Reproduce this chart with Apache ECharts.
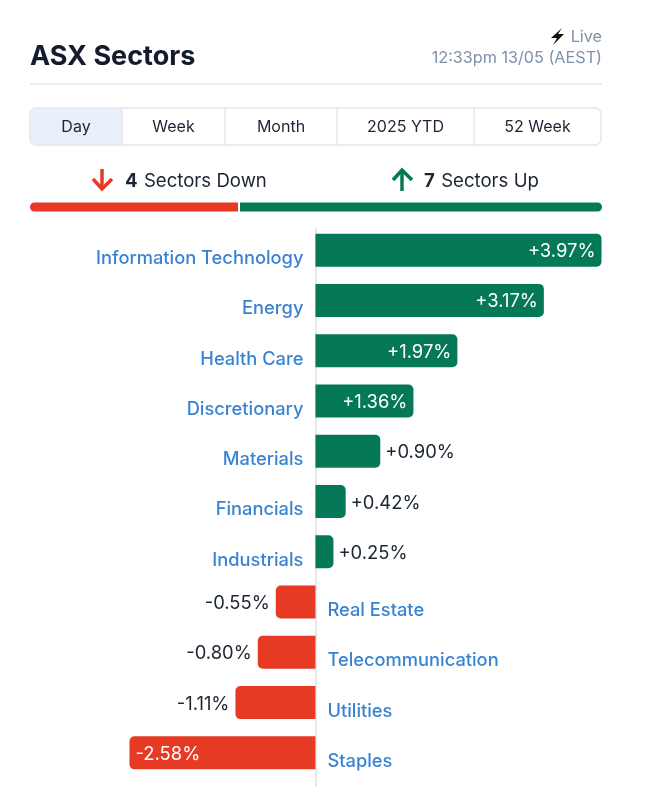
<!DOCTYPE html>
<html>
<head>
<meta charset="utf-8">
<style>html,body{margin:0;padding:0;background:#fff}#main{width:650px;height:787px}</style>
<script src="https://cdn.jsdelivr.net/npm/echarts@6/dist/echarts.min.js"></script>
</head>
<body>
<div id="main"></div>
<script>
var sectors = ['Information Technology', 'Energy', 'Health Care', 'Discretionary', 'Materials', 'Financials', 'Industrials', 'Real Estate', 'Telecommunication', 'Utilities', 'Staples'];
var changes = [3.97, 3.17, 1.97, 1.36, 0.90, 0.42, 0.25, -0.55, -0.80, -1.11, -2.58];
var tabs = ['Day', 'Week', 'Month', '2025 YTD', '52 Week'];
var tabEdges = [30, 122, 225, 337, 474, 601];
var sectorsDown = 4;
var sectorsUp = 7;

var GREEN = '#047857', RED = '#e63a25', BLUE = '#0663c7', INK = '#1c2533', GREY = '#7d91aa', LINE = '#e2e8ef';
var FONT = 'Inter';

function fmt(v) {
    return (v > 0 ? '+' : '') + v.toFixed(2) + '%';
}
// big bars hold their label inside
function labelInside(v) {
    return Math.abs(v) > 1.3 ;
}

var barData = changes.map(function (v) {
    var inside = labelInside(v);
    return {
        value: v,
        itemStyle: {
            color: v > 0 ? GREEN : RED,
            borderRadius: v > 0 ? [0, 5, 5, 0] : [5, 0, 0, 5]
        },
        label: {
            show: true,
            formatter: fmt(v),
            position: inside ? (v > 0 ? 'insideRight' : 'insideLeft') : (v > 0 ? 'right' : 'left'),
            color: inside ? '#fff' : INK,
            distance: (!inside && v > 0) ? 5 : 6,
            offset: [0, 1.5],
            fontFamily: FONT,
            fontSize: 18.4
        }
    };
});

// sector names sit on the far side of the zero line
var nameData = sectors.map(function (s, i) {
    return {
        value: [0, s],
        label: {
            show: true,
            formatter: s,
            position: changes[i] > 0 ? 'left' : 'right',
            distance: 12,
            offset: [0, 8.5],
            color: BLUE,
            fontFamily: FONT,
            fontWeight: 500,
            fontSize: 18.3
        }
    };
});

var countRich = {
    b: { font: 'bold 18.6px ' + FONT, fill: INK },
    n: { font: '18.6px ' + FONT, fill: INK, padding: [0, 0, 0, 3] }
};

var gfx = [
    { type: 'text', left: 30, top: 43, style: { text: 'ASX Sectors', fill: '#131c2e', font: 'bold 27px ' + FONT } },
    { type: 'text', right: 48, top: 29, style: { text: 'Live', fill: GREY, font: '16.2px ' + FONT } },
    { type: 'text', right: 48, top: 50, style: { text: '12:33pm 13/05 (AEST)', fill: GREY, font: '16.2px ' + FONT } },
    { type: 'polygon', shape: { points: [[562, 28], [551, 38], [557, 38], [553, 45], [564, 34], [558, 34]] }, style: { fill: '#111' } },
    { type: 'line', shape: { x1: 30, y1: 84, x2: 602, y2: 84 }, style: { stroke: LINE, lineWidth: 1.5 } },
    { type: 'rect', shape: { x: 30, y: 108, width: 92, height: 37, r: [6, 0, 0, 6] }, style: { fill: '#e9f0f9' } },
    { type: 'rect', shape: { x: 30, y: 108, width: 571, height: 37, r: 6 }, style: { fill: 'none', stroke: LINE, lineWidth: 1.5 } },
    { type: 'polyline', shape: { points: [[93, 179], [102, 189], [112, 179]] }, style: { fill: 'none', stroke: RED, lineWidth: 3.5 } },
    { type: 'line', shape: { x1: 102, y1: 169, x2: 102, y2: 189 }, style: { stroke: RED, lineWidth: 3.5 } },
    { type: 'polyline', shape: { points: [[393, 180], [402, 170], [412, 180]] }, style: { fill: 'none', stroke: GREEN, lineWidth: 3.5 } },
    { type: 'line', shape: { x1: 402, y1: 170, x2: 402, y2: 191 }, style: { stroke: GREEN, lineWidth: 3.5 } },
    { type: 'text', left: 125, top: 172, style: { rich: countRich, text: '{b|' + sectorsDown + '} {n|Sectors Down}' } },
    { type: 'text', left: 424, top: 172, style: { rich: countRich, text: '{b|' + sectorsUp + '} {n|Sectors Up}' } },
    // white notch between the red and green parts of the count bar
    { type: 'line', shape: { x1: 239, y1: 200, x2: 239, y2: 214 }, style: { stroke: '#fff', lineWidth: 2 }, z: 10 },
    { type: 'line', shape: { x1: 316, y1: 228, x2: 316, y2: 787 }, style: { stroke: '#dfe1e5', lineWidth: 1.5 }, z: 5 }
];
tabs.forEach(function (t, i) {
    if (i > 0) {
        gfx.push({ type: 'line', shape: { x1: tabEdges[i], y1: 108, x2: tabEdges[i], y2: 145 }, style: { stroke: LINE, lineWidth: 1.5 } });
    }
    gfx.push({ type: 'text', x: (tabEdges[i] + tabEdges[i + 1]) / 2, y: 127.5, style: { text: t, fill: INK, font: '16px ' + FONT, align: 'center', verticalAlign: 'middle' } });
});

var option = {
    animation: false,
    graphic: gfx,
    grid: [
        { left: 129.5, width: 472, top: 225, height: 553 },
        { left: 30, width: 572, top: 202, height: 10 }
    ],
    xAxis: [
        { type: 'value', gridIndex: 0, min: -2.58, max: 3.97, show: false },
        { type: 'value', gridIndex: 1, min: 0, max: sectorsDown + sectorsUp, show: false }
    ],
    yAxis: [
        { type: 'category', gridIndex: 0, data: sectors, inverse: true, show: false },
        { type: 'category', gridIndex: 1, data: ['count'], show: false }
    ],
    series: [
        {
            type: 'bar', xAxisIndex: 0, yAxisIndex: 0, data: barData, barWidth: 33, z: 6
        },
        {
            type: 'scatter', xAxisIndex: 0, yAxisIndex: 0, data: nameData, symbolSize: 0, silent: true, z: 7
        },
        {
            type: 'bar', xAxisIndex: 1, yAxisIndex: 1, stack: 'count', data: [sectorsDown], barWidth: 9,
            itemStyle: { color: RED, borderRadius: [5, 0, 0, 5] }
        },
        {
            type: 'bar', xAxisIndex: 1, yAxisIndex: 1, stack: 'count', data: [sectorsUp], barWidth: 9,
            itemStyle: { color: GREEN, borderRadius: [0, 5, 5, 0] }
        }
    ]
};
var myChart = echarts.init(document.getElementById('main'));
myChart.setOption(option);
</script>
</body>
</html>
